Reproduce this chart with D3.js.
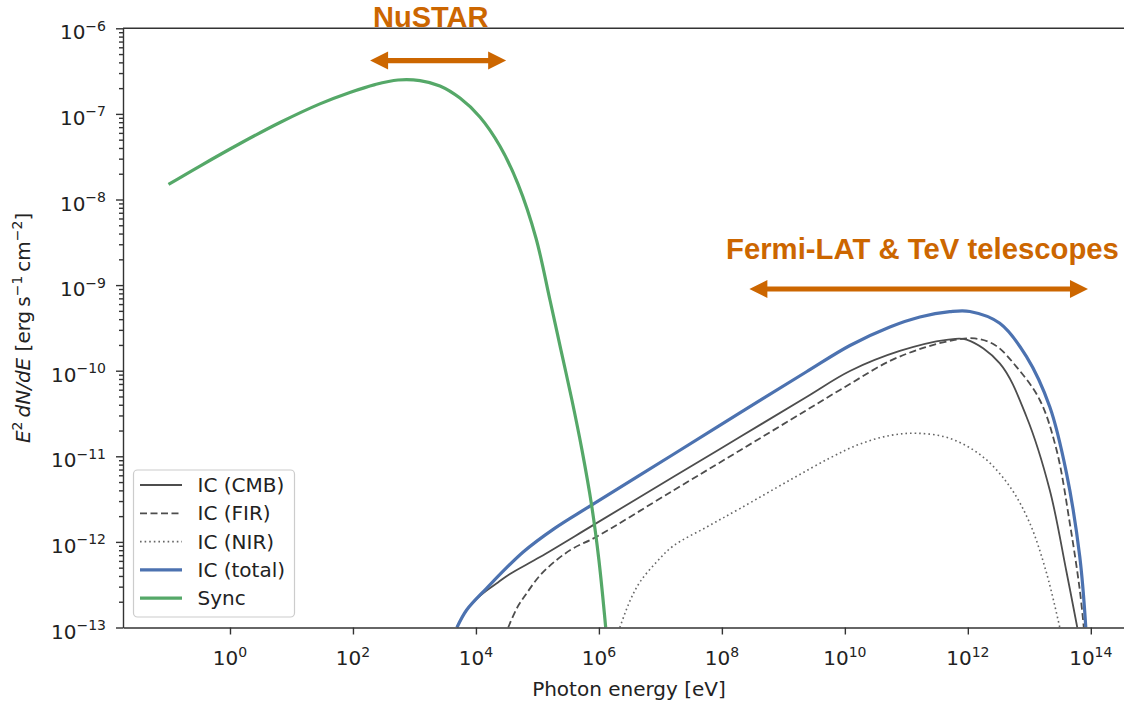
<!DOCTYPE html>
<html>
<head>
<meta charset="utf-8">
<script src="https://cdn.jsdelivr.net/npm/d3@7"></script>
<style>
  body { margin: 0; background: #fff; }
  svg { display: block; font-family: "DejaVu Sans", sans-serif; }
</style>
</head>
<body>
<div id="chart"></div>
<script>
// Photon energy [eV] and E^2 dN/dE [erg s^-1 cm^-2]
const syncE = [0.1, 0.325, 1.46, 6.5, 29, 89, 228, 540, 1.23e3, 2.6e3, 5.5e3, 1.16e4, 2.45e4, 4.82e4, 9.46e4, 1.6e5, 2.41e5, 3.64e5, 5.3e5, 7.6e5, 1.0e6, 1.29e6];
const syncF = [1.5e-8, 2.46e-8, 4.51e-8, 7.94e-8, 1.31e-7, 1.78e-7, 2.2e-7, 2.49e-7, 2.45e-7, 2.12e-7, 1.53e-7, 9.2e-8, 4.22e-8, 1.52e-8, 3.55e-9, 6.7e-10, 1.75e-10, 4.55e-11, 1.19e-11, 2.7e-12, 6.15e-13, 1.0e-13];

const totalE = [4.91e3, 7.06e3, 1.49e4, 5.87e4, 1.93e5, 7.14e5, 1.61e7, 1.96e8, 2.38e9, 1.21e10, 5.4e10, 1.66e11, 5.09e11, 1.08e12, 3.31e12, 9.0e12, 2.15e13, 4.03e13, 6.62e13, 8.3e13];
const totalF = [1.0e-13, 1.6e-13, 2.87e-13, 7.62e-13, 1.45e-12, 2.62e-12, 1.05e-11, 3.21e-11, 9.72e-11, 1.97e-10, 3.24e-10, 4.24e-10, 4.89e-10, 4.92e-10, 3.58e-10, 1.46e-10, 3.79e-11, 6.32e-12, 6.71e-13, 1.0e-13];

const cmbE = [4.91e3, 7.06e3, 1.0e4, 1.49e4, 2.28e4, 3.57e4, 1.1e5, 8.07e5, 1.61e7, 1.96e8, 2.38e9, 1.21e10, 7.83e10, 4.51e11, 9.53e11, 3.31e12, 9.0e12, 2.15e13, 4.0e13, 6.03e13];
const cmbF = [1.0e-13, 1.6e-13, 2.12e-13, 2.7e-13, 3.36e-13, 4.22e-13, 6.65e-13, 1.57e-12, 5.73e-12, 1.68e-11, 4.93e-11, 9.91e-11, 1.7e-10, 2.29e-10, 2.31e-10, 1.22e-10, 2.9e-11, 4.04e-12, 4.57e-13, 1.0e-13];

const firE = [3.35e4, 4.65e4, 6.67e4, 1.1e5, 2.05e5, 3.82e5, 9.18e5, 1.61e7, 1.96e8, 2.38e9, 1.21e10, 5.4e10, 2.0e11, 6.15e11, 1.3e12, 2.75e12, 6.19e12, 1.48e13, 2.77e13, 4.56e13, 6.62e13, 7.69e13];
const firF = [1.0e-13, 1.69e-13, 2.51e-13, 4.05e-13, 6.15e-13, 8.41e-13, 1.15e-12, 3.98e-12, 1.17e-11, 3.46e-11, 7.0e-11, 1.3e-10, 1.87e-10, 2.29e-10, 2.38e-10, 2.0e-10, 1.11e-10, 4.55e-11, 1.19e-11, 1.65e-12, 2.74e-13, 1.0e-13];

const nirE = [2.19e6, 3.19e6, 4.65e6, 8.67e6, 1.61e7, 5.64e7, 1.96e8, 1.28e9, 5.7e9, 1.75e10, 5.4e10, 1.47e11, 5.09e11, 1.75e12, 4.82e12, 1.02e13, 1.91e13, 3.13e13];
const nirF = [1.0e-13, 2.04e-13, 3.4e-13, 5.82e-13, 8.95e-13, 1.49e-12, 2.45e-12, 5.28e-12, 9.55e-12, 1.39e-11, 1.75e-11, 1.86e-11, 1.62e-11, 9.89e-12, 4.42e-12, 1.65e-12, 4.3e-13, 1.0e-13];

// tick exponents
const xTickExp = [0, 2, 4, 6, 8, 10, 12, 14];
const yTickExp = [-13, -12, -11, -10, -9, -8, -7, -6];

// instrument bands [eV] and the flux level their arrows sit at
const nustarBand = [190, 3.1e4], nustarLevel = 4.2e-7;
const fermiBand = [2.8e8, 9.0e13], fermiLevel = 9.0e-10;

const width = 1124, height = 701;
const plotLeft = 123, plotRight = 1124, plotTop = 28.3, plotBottom = 627.5;
const orange = "#cc6600";

const svg = d3.select("#chart").append("svg")
    .attr("width", width)
    .attr("height", height);

const x = d3.scaleLog().domain([Math.pow(10, -1.74), Math.pow(10, 14.54)]).range([plotLeft, plotRight]);
const y = d3.scaleLog().domain([1e-13, 1e-6]).range([plotBottom, plotTop]);

svg.append("defs").append("clipPath").attr("id", "plotclip")
  .append("rect")
    .attr("x", plotLeft).attr("y", plotTop)
    .attr("width", plotRight - plotLeft).attr("height", plotBottom - plotTop);

// series, in drawing order
const series = [
  { name: "IC (CMB)", E: cmbE, F: cmbF, color: "#4d4d4d", w: 1.8, dash: null },
  { name: "IC (FIR)", E: firE, F: firF, color: "#4d4d4d", w: 1.8, dash: "7,3.5" },
  { name: "IC (NIR)", E: nirE, F: nirF, color: "#666", w: 1.6, dash: "1.6,3" },
  { name: "IC (total)", E: totalE, F: totalF, color: "#4c72b0", w: 3.2, dash: null },
  { name: "Sync", E: syncE, F: syncF, color: "#55a868", w: 3.2, dash: null }
];

const line = d3.line()
    .x(d => x(d[0]))
    .y(d => y(d[1]))
    .curve(d3.curveCatmullRom.alpha(0.5));

svg.append("g").attr("clip-path", "url(#plotclip)")
  .selectAll("path")
  .data(series)
  .enter().append("path")
    .attr("d", s => line(s.E.map((e, i) => [e, s.F[i]])))
    .attr("fill", "none")
    .attr("stroke", s => s.color)
    .attr("stroke-width", s => s.w)
    .attr("stroke-dasharray", s => s.dash)
    .attr("stroke-linejoin", "round");

// axes
const yMinor = [];
yTickExp.slice(0, -1).forEach(p => { for (let k = 2; k < 10; k++) yMinor.push(k * Math.pow(10, p)); });

svg.append("g")
    .attr("transform", `translate(0,${plotBottom})`)
    .call(d3.axisBottom(x).tickValues(xTickExp.map(p => Math.pow(10, p))).tickSize(7).tickSizeOuter(0).tickFormat(""));

svg.append("g")
    .attr("transform", `translate(${plotLeft},0)`)
    .call(d3.axisLeft(y).tickValues(yTickExp.map(p => Math.pow(10, p))).tickSize(7).tickSizeOuter(0).tickFormat(""));

const yAxisMinor = svg.append("g")
    .attr("transform", `translate(${plotLeft},0)`)
    .call(d3.axisLeft(y).tickValues(yMinor).tickSize(4).tickSizeOuter(0).tickFormat(""));
yAxisMinor.select(".domain").remove();

svg.selectAll(".domain, .tick line")
    .attr("stroke", "#333")
    .attr("stroke-width", 1.4);

svg.append("line")
    .attr("x1", plotLeft).attr("x2", plotRight)
    .attr("y1", plotTop).attr("y2", plotTop)
    .attr("stroke", "#333")
    .attr("stroke-width", 1.4);

// tick labels with superscript exponents
function powLabel(sel, p) {
  sel.append("tspan").text("10");
  sel.append("tspan")
    .attr("dy", -8.5)
    .attr("font-size", 14)
    .text(String(p).replace("-", "\u2212"));
}

xTickExp.forEach(p => {
  const t = svg.append("text")
      .attr("x", x(Math.pow(10, p)))
      .attr("y", plotBottom + 37.5)
      .attr("text-anchor", "middle")
      .attr("font-size", 20)
      .attr("fill", "#222");
  powLabel(t, p);
});

yTickExp.forEach(p => {
  const t = svg.append("text")
      .attr("x", 106)
      .attr("y", y(Math.pow(10, p)) + 11)
      .attr("text-anchor", "end")
      .attr("font-size", 20)
      .attr("fill", "#222");
  powLabel(t, p);
});

// axis titles
svg.append("text")
    .attr("x", 629)
    .attr("y", 696)
    .attr("text-anchor", "middle")
    .attr("font-size", 20)
    .attr("fill", "#222")
    .text("Photon energy [eV]");

const yl = svg.append("text")
    .attr("transform", `translate(30,${(plotTop + plotBottom) / 2}) rotate(-90)`)
    .attr("text-anchor", "middle")
    .attr("font-size", 20)
    .attr("fill", "#222");
yl.append("tspan").attr("font-style", "italic").text("E");
yl.append("tspan").attr("dy", -8).attr("font-size", 14).text("2");
yl.append("tspan").attr("dy", 8).attr("font-style", "italic").text("\u2009dN/dE");
yl.append("tspan").text(" [erg\u2009s");
yl.append("tspan").attr("dy", -8).attr("font-size", 14).text("\u22121");
yl.append("tspan").attr("dy", 8).text("\u2009cm");
yl.append("tspan").attr("dy", -8).attr("font-size", 14).text("\u22122");
yl.append("tspan").attr("dy", 8).text("]");

// legend
const legend = svg.append("g");
legend.append("rect")
    .attr("x", 133.5).attr("y", 470)
    .attr("width", 161).attr("height", 147)
    .attr("rx", 4)
    .attr("fill", "#fff").attr("fill-opacity", 0.8)
    .attr("stroke", "#ccc").attr("stroke-width", 1.2);

const rows = legend.selectAll(".row")
    .data(series)
    .enter().append("g")
    .attr("class", "row")
    .attr("transform", (d, i) => `translate(0,${485 + i * 28.3})`);

rows.append("line")
    .attr("x1", 140).attr("x2", 182)
    .attr("stroke", d => d.color)
    .attr("stroke-width", d => d.w)
    .attr("stroke-dasharray", d => d.dash);

rows.append("text")
    .attr("x", 197.5)
    .attr("y", 7)
    .attr("font-size", 20)
    .attr("fill", "#222")
    .text(d => d.name);

// instrument arrows
function doubleArrow(band, level) {
  const x0 = x(band[0]), x1 = x(band[1]), yc = y(level);
  const hl = 18, hw = 9, sw = 2.6;
  const pts = [
    [x0, yc], [x0 + hl, yc - hw], [x0 + hl, yc - sw], [x1 - hl, yc - sw], [x1 - hl, yc - hw],
    [x1, yc], [x1 - hl, yc + hw], [x1 - hl, yc + sw], [x0 + hl, yc + sw], [x0 + hl, yc + hw]
  ];
  svg.append("path")
    .attr("d", "M" + pts.map(p => p.join(",")).join("L") + "Z")
    .attr("fill", orange);
}
doubleArrow(nustarBand, nustarLevel);
doubleArrow(fermiBand, fermiLevel);

svg.append("text")
    .attr("x", 373).attr("y", 27)
    .attr("font-family", "'Liberation Sans', Arial, sans-serif")
    .attr("font-weight", "bold")
    .attr("font-size", 29)
    .attr("fill", orange)
    .text("NuSTAR");

svg.append("text")
    .attr("x", 726).attr("y", 259)
    .attr("font-family", "'Liberation Sans', Arial, sans-serif")
    .attr("font-weight", "bold")
    .attr("font-size", 29.3)
    .attr("fill", orange)
    .text("Fermi-LAT & TeV telescopes");
</script>
</body>
</html>
